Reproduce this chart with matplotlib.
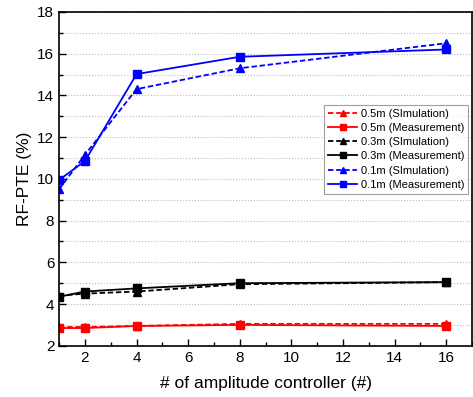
import matplotlib
matplotlib.use("Agg")
import matplotlib.pyplot as plt
from matplotlib.ticker import MultipleLocator

plt.rcParams['font.family'] = ['Liberation Sans', 'DejaVu Sans']

x = [1, 2, 4, 8, 16]
sim_05 = [2.9, 2.9, 2.95, 3.05, 3.05]
meas_05 = [2.85, 2.85, 2.95, 3.0, 2.95]
sim_03 = [4.4, 4.5, 4.6, 4.95, 5.05]
meas_03 = [4.35, 4.6, 4.75, 5.0, 5.05]
sim_01 = [9.5, 11.15, 14.3, 15.3, 16.5]
meas_01 = [9.95, 10.85, 15.02, 15.85, 16.2]

labels = ["0.5m (SImulation)", "0.5m (Measurement)", "0.3m (SImulation)",
          "0.3m (Measurement)", "0.1m (SImulation)", "0.1m (Measurement)"]

fig = plt.figure(figsize=(4.73, 3.97), dpi=100)
ax = fig.add_axes([0.125, 0.129, 0.873, 0.841])

series = [(sim_05, 'red', '--', '^'), (meas_05, 'red', '-', 's'),
          (sim_03, 'black', '--', '^'), (meas_03, 'black', '-', 's'),
          (sim_01, 'blue', '--', '^'), (meas_01, 'blue', '-', 's')]
for (vals, c, ls, m), lab in zip(series, labels):
    ax.plot(x, vals, color=c, linestyle=ls, marker=m, markersize=5.5, linewidth=1.3,
            label=lab, dashes=(3, 1.5) if ls == '--' else (None, None))

ax.set_xlim(1, 17)
ax.set_ylim(2, 18)
ax.xaxis.set_major_locator(MultipleLocator(2))
ax.xaxis.set_minor_locator(MultipleLocator(1))
ax.yaxis.set_major_locator(MultipleLocator(2))
ax.yaxis.set_minor_locator(MultipleLocator(1))
ax.set_xticks([2, 4, 6, 8, 10, 12, 14, 16])
ax.tick_params(which='both', direction='in', labelsize=11)
ax.tick_params(which='major', length=5, width=1)
ax.tick_params(which='minor', length=3, width=1)
ax.grid(True, which='both', axis='y', linestyle=':', color='#bbbbbb', linewidth=0.8)
ax.set_axisbelow(True)
for s in ax.spines.values():
    s.set_linewidth(1.2)

ax.set_xlabel("# of amplitude controller (#)", fontsize=12.5, labelpad=8)
ax.set_ylabel("RF-PTE (%)", fontsize=12.5, labelpad=4)

leg = ax.legend(loc='upper right', bbox_to_anchor=(0.99, 0.722), borderaxespad=0,
                fontsize=8, frameon=True, fancybox=False, edgecolor='#888888',
                handlelength=2.6, borderpad=0.35, labelspacing=0.38, handletextpad=0.3,
                markerscale=0.85)
leg.get_frame().set_linewidth(0.8)

fig.savefig("out.png", dpi=100)
